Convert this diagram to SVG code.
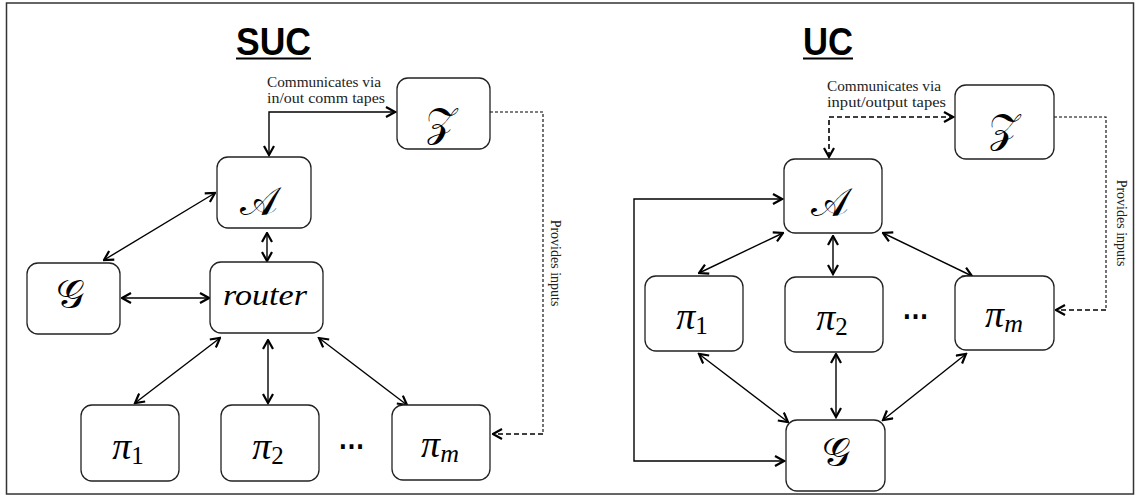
<svg xmlns="http://www.w3.org/2000/svg" width="1140" height="495" viewBox="0 0 1140 495">
<style>
.box{fill:#fff;stroke:#222;stroke-width:1.3}
.ln{fill:none;stroke:#000;stroke-width:1.4}
.dl{fill:none;stroke:#000;stroke-width:1.1;stroke-dasharray:3,2}
.dh{fill:none;stroke:#000;stroke-width:1.6;stroke-dasharray:5,3}
.title{font-family:"Liberation Sans",Arial,sans-serif;font-weight:bold;font-size:38px;fill:#000}
.note{font-family:"Liberation Serif","Times New Roman",serif;font-size:14px;fill:#222}
.math{font-family:"DejaVu Serif","DejaVu Sans",serif;font-size:40px;fill:#000;text-anchor:middle}
.it{font-family:"Liberation Serif","Times New Roman",serif;font-style:italic;font-size:38px;fill:#000;text-anchor:middle}
.rt{font-family:"Liberation Serif","Times New Roman",serif;font-style:italic;font-size:30px;fill:#000}
.sub{font-style:normal;font-size:25px}
.subi{font-style:italic;font-size:26px}
.dots{font-family:"Liberation Sans",Arial,sans-serif;font-weight:bold;font-size:32px;fill:#000}
</style>
<defs>
<marker id="ah" viewBox="0 0 12 12" refX="10.5" refY="6" markerWidth="12" markerHeight="12" markerUnits="userSpaceOnUse" orient="auto-start-reverse">
<path d="M1.5,1 L10.5,6 L1.5,11" fill="none" stroke="#000" stroke-width="2.2"/>
</marker>
</defs>
<rect x="6.5" y="3" width="1127" height="491" fill="none" stroke="#333" stroke-width="1.5"/>

<g id="titles">
<text class="title" x="236" y="55" textLength="75" lengthAdjust="spacingAndGlyphs">SUC</text>
<rect x="236" y="57.5" width="75" height="2" fill="#000"/>
<text class="title" x="803" y="55" textLength="50" lengthAdjust="spacingAndGlyphs">UC</text>
<rect x="803" y="57.5" width="50" height="2" fill="#000"/>
</g>

<g id="labels">
<text class="note" x="267" y="87" textLength="114" lengthAdjust="spacingAndGlyphs">Communicates via</text>
<text class="note" x="267" y="103" textLength="118" lengthAdjust="spacingAndGlyphs">in/out comm tapes</text>
<text class="note" x="827" y="91" textLength="114" lengthAdjust="spacingAndGlyphs">Communicates via</text>
<text class="note" x="827" y="107" textLength="119" lengthAdjust="spacingAndGlyphs">input/output tapes</text>
<text class="note" transform="translate(551,263) rotate(90)" text-anchor="middle">Provides inputs</text>
<text class="note" transform="translate(1117,223) rotate(90)" text-anchor="middle">Provides inputs</text>
<text class="dots" x="338" y="449" textLength="27" lengthAdjust="spacingAndGlyphs">…</text>
<text class="dots" x="902" y="319" textLength="27" lengthAdjust="spacingAndGlyphs">…</text>
</g>

<g id="connectors">
<!-- left -->
<path class="ln" d="M269,155 L269,112 L395,112" marker-start="url(#ah)" marker-end="url(#ah)"/>
<path class="ln" d="M104,260 L215,193" marker-start="url(#ah)" marker-end="url(#ah)"/>
<path class="ln" d="M122,298 L209,298" marker-start="url(#ah)" marker-end="url(#ah)"/>
<path class="ln" d="M267,233 L267,261" marker-start="url(#ah)" marker-end="url(#ah)"/>
<path class="ln" d="M220,338 L135,403" marker-start="url(#ah)" marker-end="url(#ah)"/>
<path class="ln" d="M268,340 L268,403" marker-start="url(#ah)" marker-end="url(#ah)"/>
<path class="ln" d="M319,338 L407,405" marker-start="url(#ah)" marker-end="url(#ah)"/>
<path class="dl" d="M490,112 L543,112 L543,434"/>
<path class="dh" d="M543,434 L493,434" marker-end="url(#ah)"/>
<!-- right -->
<path class="dh" d="M829,157 L829,117 L953,117" marker-start="url(#ah)" marker-end="url(#ah)"/>
<path class="dl" d="M1054,117 L1106,117 L1106,310"/>
<path class="dh" d="M1106,310 L1056,310" marker-end="url(#ah)"/>
<path class="ln" d="M782,199 L634,199 L634,461 L784,461" marker-start="url(#ah)" marker-end="url(#ah)"/>
<path class="ln" d="M783,233 L699,273" marker-start="url(#ah)" marker-end="url(#ah)"/>
<path class="ln" d="M833,236 L833,274" marker-start="url(#ah)" marker-end="url(#ah)"/>
<path class="ln" d="M883,233 L972,276" marker-start="url(#ah)" marker-end="url(#ah)"/>
<path class="ln" d="M699,354 L788,422" marker-start="url(#ah)" marker-end="url(#ah)"/>
<path class="ln" d="M836,354 L836,417" marker-start="url(#ah)" marker-end="url(#ah)"/>
<path class="ln" d="M966,354 L883,420" marker-start="url(#ah)" marker-end="url(#ah)"/>
</g>

<g id="suc-Z"><rect class="box" x="397" y="78" width="93" height="71" rx="11"/><text class="math" x="441" y="136">𝒵</text></g>
<g id="suc-A"><rect class="box" x="217" y="157" width="94" height="71" rx="11"/><text class="math" x="259" y="215">𝒜</text></g>
<g id="suc-G"><rect class="box" x="27" y="263" width="93" height="71" rx="11"/><text class="math" x="70" y="308">𝒢</text></g>
<g id="suc-router"><rect class="box" x="210" y="262" width="113" height="71" rx="11"/><text class="rt" x="223" y="305" textLength="84" lengthAdjust="spacingAndGlyphs">router</text></g>
<g id="suc-pi1"><rect class="box" x="81" y="405" width="98" height="76" rx="11"/><text class="it" x="128" y="459">π<tspan class="sub" dy="5">1</tspan></text></g>
<g id="suc-pi2"><rect class="box" x="221" y="405" width="98" height="76" rx="11"/><text class="it" x="268" y="459">π<tspan class="sub" dy="5">2</tspan></text></g>
<g id="suc-pim"><rect class="box" x="392" y="405" width="98" height="75" rx="11"/><text class="it" x="440" y="457">π<tspan class="subi" dy="5">m</tspan></text></g>

<g id="uc-Z"><rect class="box" x="955" y="85" width="99" height="74" rx="11"/><text class="math" x="1004" y="142">𝒵</text></g>
<g id="uc-A"><rect class="box" x="784" y="159" width="98" height="74" rx="11"/><text class="math" x="830" y="216">𝒜</text></g>
<g id="uc-pi1"><rect class="box" x="645" y="276" width="98" height="75" rx="11"/><text class="it" x="692" y="329">π<tspan class="sub" dy="5">1</tspan></text></g>
<g id="uc-pi2"><rect class="box" x="785" y="277" width="98" height="75" rx="11"/><text class="it" x="832" y="330">π<tspan class="sub" dy="5">2</tspan></text></g>
<g id="uc-pim"><rect class="box" x="955" y="276" width="99" height="74" rx="11"/><text class="it" x="1004" y="327">π<tspan class="subi" dy="5">m</tspan></text></g>
<g id="uc-G"><rect class="box" x="786" y="420" width="99" height="71" rx="11"/><text class="math" x="836" y="466">𝒢</text></g>
</svg>
